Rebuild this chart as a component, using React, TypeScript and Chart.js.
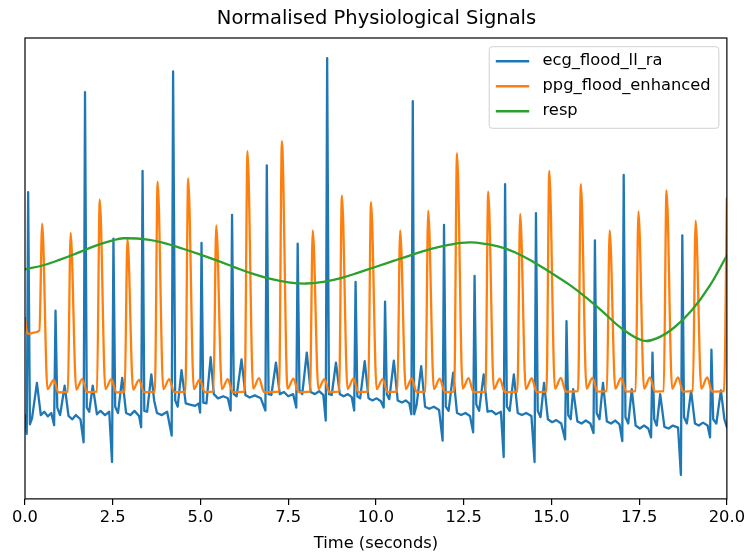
import React, { useEffect, useRef } from "react";
import { Chart, registerables } from "chart.js";

Chart.register(...registerables);

const chartTitle = "Normalised Physiological Signals";
const xAxisLabel = "Time (seconds)";
const seriesNames = ["ecg_flood_ll_ra", "ppg_flood_enhanced", "resp"];
const seriesColors = ["#1f77b4", "#ff7f0e", "#2ca02c"];
const xTickValues = [0, 2.5, 5, 7.5, 10, 12.5, 15, 17.5, 20];

// [time (s), normalised value]
const ecgPoints: [number, number][] = [
  [0.0, 0.15], [0.05, 0.105], [0.09, 0.682], [0.14, 0.128], [0.2, 0.142], [0.34, 0.227], [0.45, 0.15], [0.55, 0.158], [0.65, 0.147], [0.75, 0.155],
  [0.83, 0.126], [0.87, 0.399], [0.92, 0.168], [1.0, 0.15], [1.13, 0.22], [1.24, 0.148], [1.35, 0.14], [1.45, 0.15], [1.58, 0.14],
  [1.67, 0.085], [1.71, 0.921], [1.76, 0.168], [1.83, 0.158], [1.93, 0.22], [2.05, 0.152], [2.15, 0.16], [2.28, 0.15], [2.4, 0.158],
  [2.48, 0.038], [2.52, 0.571], [2.57, 0.17], [2.65, 0.155], [2.77, 0.239], [2.88, 0.155], [3.0, 0.15], [3.12, 0.16], [3.25, 0.148],
  [3.31, 0.121], [3.35, 0.733], [3.4, 0.16], [3.48, 0.158], [3.6, 0.247], [3.68, 0.185], [3.76, 0.155], [3.9, 0.15], [4.05, 0.158],
  [4.18, 0.101], [4.22, 0.97], [4.28, 0.185], [4.35, 0.17], [4.46, 0.257], [4.58, 0.178], [4.7, 0.175], [4.85, 0.172], [4.95, 0.178],
  [4.99, 0.156], [5.03, 0.561], [5.08, 0.18], [5.17, 0.178], [5.29, 0.288], [5.38, 0.2], [5.5, 0.19], [5.65, 0.195], [5.78, 0.19],
  [5.86, 0.161], [5.9, 0.628], [5.95, 0.2], [6.03, 0.195], [6.17, 0.283], [6.28, 0.198], [6.4, 0.192], [6.55, 0.197], [6.72, 0.19],
  [6.85, 0.161], [6.89, 0.746], [6.94, 0.2], [7.02, 0.198], [7.15, 0.275], [7.26, 0.2], [7.38, 0.205], [7.5, 0.195], [7.64, 0.2],
  [7.73, 0.168], [7.77, 0.559], [7.82, 0.21], [7.9, 0.2], [8.03, 0.299], [8.14, 0.205], [8.26, 0.2], [8.38, 0.207], [8.5, 0.198],
  [8.57, 0.137], [8.61, 1.002], [8.66, 0.2], [8.74, 0.198], [8.86, 0.275], [8.97, 0.2], [9.08, 0.195], [9.2, 0.2], [9.31, 0.193],
  [9.38, 0.161], [9.42, 0.468], [9.47, 0.195], [9.55, 0.19], [9.68, 0.279], [9.79, 0.19], [9.9, 0.185], [10.02, 0.19], [10.14, 0.183],
  [10.22, 0.168], [10.26, 0.421], [10.31, 0.2], [10.38, 0.188], [10.51, 0.28], [10.62, 0.185], [10.74, 0.18], [10.85, 0.185], [10.95, 0.178],
  [11.01, 0.152], [11.05, 0.899], [11.09, 0.152], [11.16, 0.175], [11.29, 0.267], [11.4, 0.17], [11.52, 0.165], [11.65, 0.17], [11.8, 0.162],
  [11.9, 0.089], [11.94, 0.604], [11.99, 0.17], [12.07, 0.16], [12.2, 0.251], [12.31, 0.155], [12.43, 0.15], [12.55, 0.155], [12.68, 0.148],
  [12.77, 0.109], [12.81, 0.482], [12.86, 0.175], [12.94, 0.16], [13.07, 0.247], [13.18, 0.158], [13.3, 0.16], [13.42, 0.152], [13.56, 0.158],
  [13.64, 0.05], [13.68, 0.701], [13.73, 0.17], [13.81, 0.16], [13.93, 0.247], [14.04, 0.155], [14.16, 0.15], [14.28, 0.155], [14.43, 0.148],
  [14.52, 0.038], [14.56, 0.632], [14.61, 0.16], [14.69, 0.145], [14.79, 0.227], [14.9, 0.14], [15.02, 0.133], [15.14, 0.138], [15.28, 0.13],
  [15.39, 0.092], [15.43, 0.374], [15.48, 0.15], [15.55, 0.14], [15.62, 0.212], [15.74, 0.135], [15.86, 0.13], [15.98, 0.137], [16.11, 0.13],
  [16.2, 0.107], [16.24, 0.567], [16.29, 0.155], [16.37, 0.14], [16.47, 0.227], [16.58, 0.135], [16.7, 0.13], [16.82, 0.137], [16.94, 0.128],
  [17.02, 0.088], [17.06, 0.723], [17.11, 0.145], [17.19, 0.13], [17.29, 0.212], [17.4, 0.125], [17.52, 0.118], [17.64, 0.125], [17.76, 0.118],
  [17.84, 0.097], [17.88, 0.299], [17.93, 0.14], [18.0, 0.125], [18.1, 0.2], [18.22, 0.122], [18.34, 0.118], [18.46, 0.125], [18.61, 0.12],
  [18.69, 0.007], [18.73, 0.579], [18.78, 0.145], [18.86, 0.13], [18.98, 0.208], [19.09, 0.13], [19.2, 0.125], [19.32, 0.132], [19.45, 0.125],
  [19.52, 0.097], [19.56, 0.306], [19.61, 0.14], [19.7, 0.13], [19.83, 0.209], [19.93, 0.14], [20.0, 0.121],
];

const ppgPoints: [number, number][] = [
  [0.0, 0.382], [0.05, 0.348], [0.12, 0.344], [0.25, 0.347], [0.41, 0.352],
  [0.49, 0.607], [0.64, 0.212], [0.82, 0.234], [0.95, 0.204], [1.22, 0.206],
  [1.3, 0.585], [1.46, 0.211], [1.63, 0.236], [1.77, 0.205], [2.05, 0.206],
  [2.13, 0.664], [2.29, 0.212], [2.46, 0.236], [2.6, 0.204], [2.84, 0.206],
  [2.92, 0.571], [3.08, 0.211], [3.25, 0.234], [3.39, 0.205], [3.7, 0.206],
  [3.78, 0.707], [3.94, 0.212], [4.11, 0.236], [4.25, 0.205], [4.57, 0.206],
  [4.65, 0.715], [4.81, 0.212], [4.98, 0.235], [5.12, 0.205], [5.37, 0.206],
  [5.45, 0.603], [5.61, 0.212], [5.78, 0.236], [5.92, 0.205], [6.26, 0.206],
  [6.34, 0.78], [6.5, 0.213], [6.67, 0.238], [6.81, 0.205], [7.24, 0.206],
  [7.32, 0.804], [7.48, 0.213], [7.65, 0.237], [7.79, 0.205], [8.12, 0.206],
  [8.2, 0.591], [8.36, 0.212], [8.53, 0.236], [8.67, 0.205], [8.95, 0.206],
  [9.03, 0.674], [9.19, 0.212], [9.36, 0.237], [9.5, 0.205], [9.78, 0.206],
  [9.86, 0.658], [10.02, 0.212], [10.19, 0.236], [10.33, 0.205], [10.61, 0.206],
  [10.69, 0.591], [10.85, 0.212], [11.02, 0.237], [11.16, 0.205], [11.41, 0.206],
  [11.49, 0.638], [11.65, 0.212], [11.82, 0.237], [11.96, 0.205], [12.23, 0.206],
  [12.31, 0.775], [12.47, 0.213], [12.64, 0.238], [12.78, 0.205], [13.12, 0.206],
  [13.2, 0.683], [13.36, 0.212], [13.53, 0.237], [13.67, 0.205], [14.03, 0.206],
  [14.11, 0.63], [14.27, 0.212], [14.44, 0.238], [14.58, 0.205], [14.86, 0.206],
  [14.94, 0.733], [15.1, 0.213], [15.27, 0.239], [15.41, 0.206], [15.76, 0.207],
  [15.84, 0.701], [16.0, 0.213], [16.17, 0.239], [16.31, 0.206], [16.58, 0.207],
  [16.66, 0.591], [16.82, 0.213], [16.99, 0.239], [17.13, 0.206], [17.4, 0.207],
  [17.48, 0.636], [17.64, 0.213], [17.81, 0.24], [17.95, 0.206], [18.2, 0.207],
  [18.28, 0.686], [18.44, 0.213], [18.61, 0.24], [18.75, 0.206], [19.03, 0.207],
  [19.11, 0.614], [19.27, 0.213], [19.44, 0.24], [19.58, 0.206], [19.92, 0.207],
  [20.0, 0.668],
];

const respPoints: [number, number][] = [
  [0, 0.498], [0.5, 0.507], [1, 0.521], [1.5, 0.537], [2, 0.554], [2.5, 0.567], [2.8, 0.572],
  [3.5, 0.569], [4, 0.56], [4.5, 0.547], [5, 0.533], [5.5, 0.518], [6, 0.502], [6.5, 0.487],
  [7, 0.475], [7.5, 0.467], [8, 0.464], [8.5, 0.468], [9, 0.477], [9.5, 0.49], [10, 0.504],
  [10.5, 0.518], [11, 0.532], [11.5, 0.545], [12, 0.555], [12.7, 0.562], [13.5, 0.552],
  [14, 0.537], [14.5, 0.515], [15, 0.489], [15.5, 0.462], [16, 0.43], [16.5, 0.394],
  [17, 0.357], [17.6, 0.328], [18, 0.333], [18.5, 0.359], [19, 0.4], [19.5, 0.457], [20, 0.531],
];

const FONT = '"DejaVu Sans", "Liberation Sans", sans-serif';

const framePlugin = {
  id: "mplFrame",
  afterDatasetsDraw(chart: any) {
    const { ctx, chartArea: a } = chart;
    ctx.save();
    ctx.strokeStyle = "#000";
    ctx.lineWidth = 1.2;
    ctx.strokeRect(a.left, a.top, a.right - a.left, a.bottom - a.top);
    ctx.restore();
  },
};

const legendPlugin = {
  id: "mplLegend",
  afterDraw(chart: any) {
    const { ctx, chartArea: a } = chart;
    const ds = chart.data.datasets;
    ctx.save();
    ctx.font = `16.3px ${FONT}`;
    const tw = Math.max(...ds.map((d: any) => ctx.measureText(d.label).width));
    const padL = 6.6, handle = 33.4, gap = 13.3, padR = 8.3;
    const w = padL + handle + gap + tw + padR;
    const h = 81.6;
    const right = a.right - 8;
    const top = a.top + 8.7;
    const left = right - w;
    ctx.beginPath();
    if ((ctx as any).roundRect) (ctx as any).roundRect(left, top, w, h, 3);
    else ctx.rect(left, top, w, h);
    ctx.fillStyle = "rgba(255,255,255,0.8)";
    ctx.fill();
    ctx.strokeStyle = "rgba(204,204,204,0.9)";
    ctx.lineWidth = 1;
    ctx.stroke();
    ds.forEach((d: any, i: number) => {
      const y = top + 14.5 + i * 25;
      ctx.strokeStyle = d.borderColor;
      ctx.lineWidth = 2.4;
      ctx.beginPath();
      ctx.moveTo(left + padL, y);
      ctx.lineTo(left + padL + handle, y);
      ctx.stroke();
      ctx.fillStyle = "#000";
      ctx.textBaseline = "middle";
      ctx.textAlign = "left";
      ctx.fillText(d.label, left + padL + handle + gap, y);
    });
    ctx.restore();
  },
};

export default function App() {
  const canvasRef = useRef<HTMLCanvasElement | null>(null);

  useEffect(() => {
    document.body.style.margin = "0";
    const canvas = canvasRef.current;
    if (!canvas) return;
    const toXY = (pts: [number, number][]) => pts.map(([x, y]) => ({ x, y }));
    const common = {
      borderWidth: 2.3,
      pointRadius: 0,
      borderJoinStyle: "round",
      borderCapStyle: "round",
    };
    const chart = new Chart(canvas, {
      type: "line",
      data: {
        datasets: [
          {
            ...common,
            label: seriesNames[0],
            data: toXY(ecgPoints),
            borderColor: seriesColors[0],
            backgroundColor: seriesColors[0],
            tension: 0,
            order: 3,
          },
          {
            ...common,
            label: seriesNames[1],
            data: toXY(ppgPoints),
            borderColor: seriesColors[1],
            backgroundColor: seriesColors[1],
            cubicInterpolationMode: "monotone",
            order: 2,
          },
          {
            ...common,
            label: seriesNames[2],
            data: toXY(respPoints),
            borderColor: seriesColors[2],
            backgroundColor: seriesColors[2],
            tension: 0.4,
            order: 1,
          },
        ],
      },
      options: {
        animation: false,
        responsive: false,
        devicePixelRatio: 1,
        layout: { padding: { left: 25, right: 20, top: 0, bottom: 0 } },
        plugins: {
          legend: { display: false },
          tooltip: { enabled: false },
          title: {
            display: true,
            text: chartTitle,
            color: "#000",
            font: { family: FONT, size: 19.5, weight: "normal" },
            padding: { top: 7, bottom: 7.6 },
          },
        },
        scales: {
          x: {
            type: "linear",
            min: 0,
            max: 20,
            afterBuildTicks: (scale: any) => {
              scale.ticks = xTickValues.map((v) => ({ value: v }));
            },
            ticks: {
              callback: (v: any) => Number(v).toFixed(1),
              color: "#000",
              font: { family: FONT, size: 16.3 },
              padding: 3,
              maxRotation: 0,
              autoSkip: false,
            },
            grid: {
              display: true,
              drawOnChartArea: false,
              drawTicks: true,
              tickLength: 6,
              color: "#000",
              lineWidth: 1.2,
            },
            border: { display: false },
            title: {
              display: true,
              text: xAxisLabel,
              color: "#000",
              font: { family: FONT, size: 16.3 },
              padding: { top: 4, bottom: 0 },
            },
          },
          y: {
            type: "linear",
            display: false,
            min: -0.05,
            max: 1.05,
          },
        },
      },
      plugins: [framePlugin, legendPlugin],
    } as any);
    return () => chart.destroy();
  }, []);

  return (
    <div style={{ width: 748, height: 554, position: "relative" }}>
      <canvas ref={canvasRef} width={748} height={554} />
    </div>
  );
}
